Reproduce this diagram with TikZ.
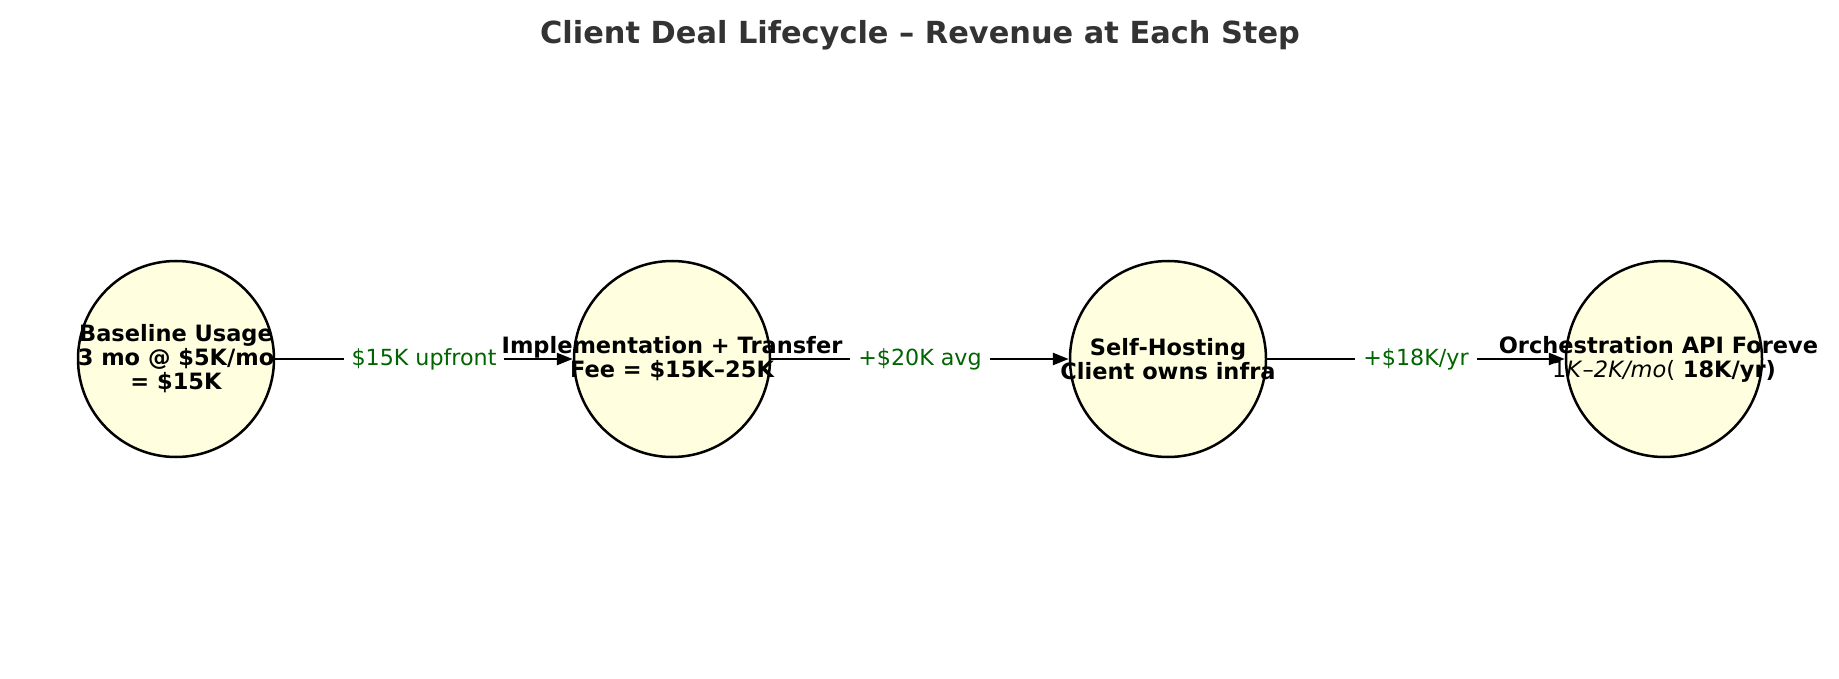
\documentclass[tikz,border=0pt]{standalone}
\usepackage{fontspec}
\setmainfont{DejaVu Sans}
\usetikzlibrary{arrows.meta}
\definecolor{titlegray}{HTML}{333333}
\definecolor{stagefill}{HTML}{FFFFE0}
\definecolor{labgreen}{HTML}{006400}
\begin{document}
\begin{tikzpicture}[x=1pt,y=-1pt,
  stage/.style={circle,draw=black,line width=2.5pt,fill=stagefill,minimum size=196pt,inner sep=0pt},
  stagetext/.style={align=center,font=\fontsize{22.5}{24}\selectfont\bfseries,text=black,inner sep=0pt},
  edge/.style={line width=2.5pt,draw=black,-{Triangle[length=16pt,width=12pt]}},
  elabel/.style={fill=white,inner sep=8pt,text=labgreen,font=\fontsize{22.2}{24}\selectfont},
  titlestyle/.style={font=\fontsize{30.4}{36}\selectfont\bfseries,text=titlegray}]
\useasboundingbox (0,0) rectangle (1839,679);
\clip (0,0) rectangle (1818,679);
\node[titlestyle] (title) at (920,35) {Client Deal Lifecycle – Revenue at Each Step};
\node[stage] (s1) at (176,359) {};
\node[stage] (s2) at (672,359) {};
\node[stage] (s3) at (1168,359) {};
\node[stage] (s4) at (1664,359) {};
\draw[edge] (s1) -- node[elabel] (e1) {\$15K upfront} (s2);
\draw[edge] (s2) -- node[elabel] (e2) {+\$20K avg} (s3);
\draw[edge] (s3) -- node[elabel] (e3) {+\$18K/yr} (s4);
\node[stagetext] (t1) at (s1) {Baseline Usage\\3 mo @ \$5K/mo\\= \$15K};
\node[stagetext] (t2) at (s2) {Implementation + Transfer\\Fee = \$15K–25K};
\node[stagetext] (t3) at (s3) {Self-Hosting\\Client owns infra};
\node[stagetext] (t4) at (s4) {Orchestration API Forever\\{\mdseries 1\textit{K}–\textit{2K/mo}(} 18K/yr)};
\end{tikzpicture}
\end{document}
